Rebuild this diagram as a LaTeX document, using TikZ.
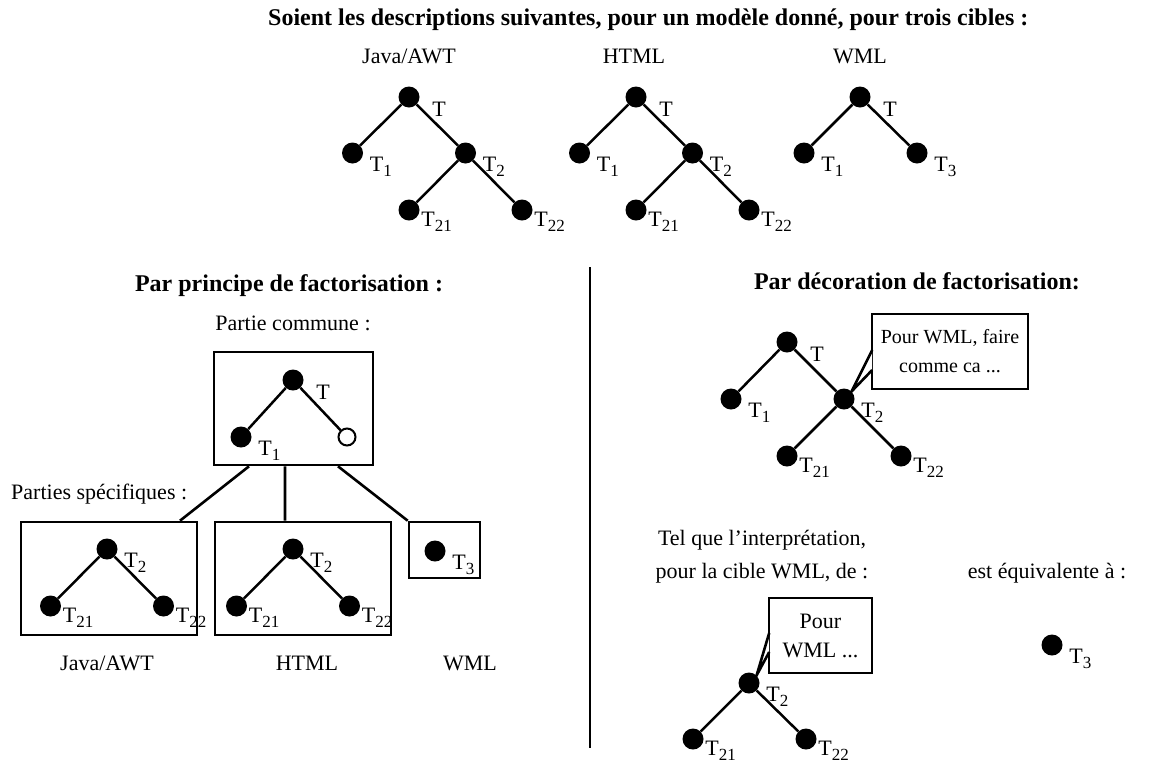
\documentclass[tikz,border=0pt]{standalone}
\usepackage{fontspec}
\setmainfont{Liberation Serif}
\usetikzlibrary{positioning}
\newcommand\sub[1]{\raisebox{-5pt}{\fontsize{17}{17}\selectfont #1}}
\tikzset{
  dot/.style={circle,fill=black,inner sep=0pt,minimum size=21pt},
  hollow/.style={circle,draw=black,line width=2pt,fill=white,inner sep=0pt,minimum size=17pt},
  lbl/.style={anchor=north west,inner sep=0pt,xshift=6.5pt,yshift=-4pt},
  lbltop/.style={anchor=north west,inner sep=0pt,xshift=12.5pt,yshift=-5pt},
  lblsub/.style={anchor=north west,inner sep=0pt,xshift=1.5pt,yshift=-2pt},
  edge/.style={line width=2.5pt},
  box/.style={draw,line width=2.6pt,inner sep=0pt},
  txt/.style={inner sep=0pt,anchor=base},
  head/.style={txt,font=\fontsize{24}{28}\selectfont\bfseries},
}
\begin{document}
\begin{tikzpicture}[x=1pt,y=-1pt,font=\fontsize{22}{27}\selectfont]
\useasboundingbox (0,0) rectangle (1149,764);

% descriptions des trois cibles
\node[head,anchor=base west] (titre) at (268,25) {Soient les descriptions suivantes, pour un mod\`ele donn\'e, pour trois cibles :};
\node[txt] (ja) at (409,63) {Java/AWT};
\node[txt] (jb) at (634,63) {HTML};
\node[txt] (jc) at (860,63) {WML};
\foreach \n/\x in {a/409,b/636}{
  \node[dot,label={[lbltop]0:T}] (\n-t) at (\x,97) {};
  \node[dot,label={[lbl]0:T\sub{1}}] (\n-t1) at (\x-56.5,153) {};
  \node[dot,label={[lbl]0:T\sub{2}}] (\n-t2) at (\x+56.5,153) {};
  \node[dot,label={[lblsub]0:T\sub{21}}] (\n-t21) at (\x,210) {};
  \node[dot,label={[lblsub]0:T\sub{22}}] (\n-t22) at (\x+113,210) {};
  \draw[edge] (\n-t) -- (\n-t1) (\n-t) -- (\n-t2) (\n-t2) -- (\n-t21) (\n-t2) -- (\n-t22);
}
\node[dot,label={[lbltop]0:T}] (c-t) at (860,97) {};
\node[dot,label={[lbl]0:T\sub{1}}] (c-t1) at (804,153) {};
\node[dot,label={[lbl]0:T\sub{3}}] (c-t3) at (917,153) {};
\draw[edge] (c-t) -- (c-t1) (c-t) -- (c-t3);

% separation
\draw[line width=2.6pt] (590,267) -- (590,748);

% principe de factorisation
\node[head] (hp) at (289,291) {Par principe de factorisation :};
\node[txt] (pc) at (293,330) {Partie commune :};
\node[box,minimum width=159pt,minimum height=113pt] (commun) at (293.5,408.5) {};
\node[dot,label={[lbltop]0:T}] (k-t) at (293,380) {};
\node[dot,label={[lbl]0:T\sub{1}}] (k-t1) at (241,437) {};
\node[hollow] (k-h) at (347,437) {};
\draw[edge] (k-t) -- (k-t1) (k-t) -- (k-h);
\node[txt,anchor=base west] (ps) at (11,499) {Parties sp\'ecifiques :};
\node[box,minimum width=176pt,minimum height=113pt] (bja) at (109,578.5) {};
\node[box,minimum width=176pt,minimum height=113pt] (bht) at (303,578.5) {};
\node[box,minimum width=71pt,minimum height=56pt] (bwm) at (444.5,550) {};
\foreach \n/\x in {p/107,q/293}{
  \node[dot,label={[lbl]0:T\sub{2}}] (\n-t2) at (\x,549) {};
  \node[dot,label={[lblsub]0:T\sub{21}}] (\n-t21) at (\x-56.5,606) {};
  \node[dot,label={[lblsub]0:T\sub{22}}] (\n-t22) at (\x+56.5,606) {};
  \draw[edge] (\n-t2) -- (\n-t21) (\n-t2) -- (\n-t22);
}
\node[dot,label={[lbl]0:T\sub{3}}] (r-t3) at (435,551) {};
\draw[line width=2.6pt] ([xshift=-44.5pt]commun.south) -- ([xshift=71pt]bja.north)
  (commun.south -| bht.north) ++(-18,0) coordinate (m) -- (m |- bht.north)
  ([xshift=44.5pt]commun.south) -- (bwm.north west);
\node[txt] (la) at (107,670) {Java/AWT};
\node[txt] (lb) at (307,670) {HTML};
\node[txt] (lc) at (470,670) {WML};

% decoration de factorisation
\node[head] (hd) at (917,289) {Par d\'ecoration de factorisation:};
\node[dot,label={[lbltop]0:T}] (d-t) at (787,342) {};
\node[dot,label={[lbl]0:T\sub{1}}] (d-t1) at (731,399) {};
\node[dot,label={[lbl]0:T\sub{2}}] (d-t2) at (844,399) {};
\node[dot,label={[lblsub]0:T\sub{21}}] (d-t21) at (787,456) {};
\node[dot,label={[lblsub]0:T\sub{22}}] (d-t22) at (901,456) {};
\draw[edge] (d-t) -- (d-t1) (d-t) -- (d-t2) (d-t2) -- (d-t21) (d-t2) -- (d-t22);
\node[box,fill=white,align=center,minimum width=156pt,minimum height=75pt,font=\fontsize{20}{29}\selectfont] (bulle) at (950,351.5) {Pour WML, faire\\comme ca ...};
\draw[line width=2.6pt,fill=white] ([xshift=1.5pt,yshift=1.5pt]bulle.west) -- (d-t2.45) -- ([xshift=1.5pt,yshift=-18.5pt]bulle.west);

\node[align=center,inner sep=0pt,font=\fontsize{22}{33}\selectfont] (tq) at (762,557) {Tel que l'interpr\'etation,\\pour la cible WML, de :};
\node[txt] (eq) at (1047,578) {est \'equivalente \`a :};
\node[dot,label={[lbl]0:T\sub{2}}] (e-t2) at (749,683) {};
\node[dot,label={[lblsub]0:T\sub{21}}] (e-t21) at (693,739) {};
\node[dot,label={[lblsub]0:T\sub{22}}] (e-t22) at (806,739) {};
\draw[edge] (e-t2) -- (e-t21) (e-t2) -- (e-t22);
\node[box,fill=white,align=center,minimum width=103pt,minimum height=75pt,font=\fontsize{22}{29}\selectfont] (bulle2) at (820.5,635.5) {Pour\\WML ...};
\draw[line width=2.6pt,fill=white] ([xshift=1.5pt,yshift=2.5pt]bulle2.west) -- (e-t2.45) -- ([xshift=1.5pt,yshift=-16.5pt]bulle2.west);
\node[dot,label={[lbl]0:T\sub{3}}] (f-t3) at (1052,645) {};
\end{tikzpicture}
\end{document}
